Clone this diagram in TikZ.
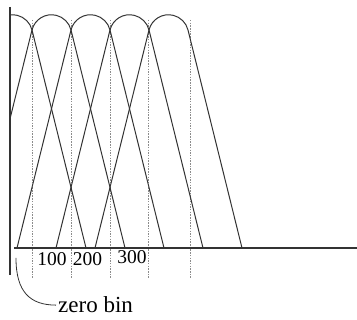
\documentclass[tikz,border=0pt]{standalone}
\usepackage{fontspec}
\setmainfont{Liberation Serif}
\begin{document}
\begin{tikzpicture}[x=1pt,y=-1pt,
    filter/.style={draw=black!80,line width=1pt},
    binline/.style={draw=black!45,line width=0.6pt,dash pattern=on 1.5pt off 1.2pt},
    axis/.style={draw=black!80,line width=1.4pt},
    ticklabel/.style={font=\fontsize{19.5}{20}\selectfont,inner sep=0pt,anchor=base}]
    \useasboundingbox (0,0) rectangle (357,320);
    % dashed bin boundaries
    \foreach \x in {32,71,110,148,190}
        \draw[binline] (\x,20) -- (\x,278);
    % overlapping filters
    \begin{scope}
        \clip (11,0) rectangle (357,320);
        \foreach \a in {-7,32,71,110,149}
            \draw[filter] (\a-54,248) -- (\a,30)
                arc[start angle=194,end angle=346,radius=20.1] -- ++(54,218);
    \end{scope}
    % axes
    \draw[axis,line width=1.7pt] (10,7) -- (10,275);
    \draw[axis] (14,248) -- (357,248);
    % labels
    \node[ticklabel] (l100) at (52,265.5) {100};
    \node[ticklabel] (l200) at (87.5,265.5) {200};
    \node[ticklabel] (l300) at (132,263.5) {300};
    \node[font=\fontsize{23}{24}\selectfont,inner sep=2pt,anchor=base west] (zerobin) at (56,313) {zero bin};
    \coordinate (zerotip) at (16,258);
    \draw[filter,line width=0.8pt] (zerotip) .. controls (16,292) and (30,305) .. (zerobin.west);
\end{tikzpicture}
\end{document}
